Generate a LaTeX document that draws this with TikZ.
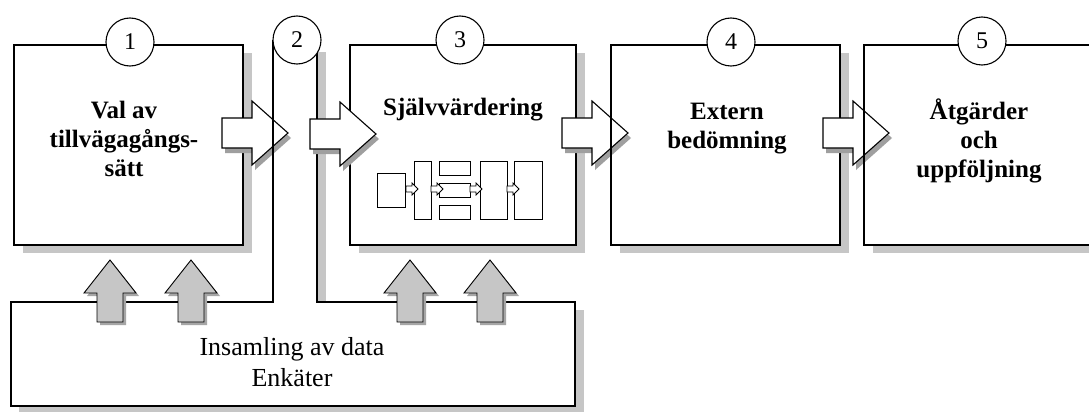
\documentclass[tikz,border=0pt]{standalone}
\usepackage{fontspec}
\setmainfont{Liberation Serif}
\usetikzlibrary{shadows}
\begin{document}
\begin{tikzpicture}[x=1pt,y=-1pt,
  stage/.style={draw, line width=1.1pt, fill=white, minimum width=229pt, minimum height=200pt,
    inner sep=0pt, outer sep=0pt, general shadow={fill=gray!45, shadow xshift=9pt, shadow yshift=-8pt}},
  num/.style={circle, draw, line width=1.1pt, fill=white, minimum size=48pt, inner sep=0pt,
    font=\fontsize{24}{26}\selectfont},
  title/.style={align=center, font=\fontsize{25}{29}\selectfont\bfseries, anchor=base, inner sep=0pt},
  plain/.style={align=center, font=\fontsize{26}{31}\selectfont, anchor=base, inner sep=0pt},
  mini/.style={draw, line width=0.9pt, fill=white, inner sep=0pt, outer sep=0pt},
  frame/.style={line width=1.1pt},
  rarr/.pic={
    \fill[gray!75, shift={(3,5)}] (0,-15) -- (30,-15) -- (30,-32) -- (66,0) -- (30,32) -- (30,15) -- (0,15) -- cycle;
    \draw[fill=white, line width=1.1pt] (0,-15) -- (30,-15) -- (30,-32) -- (66,0) -- (30,32) -- (30,15) -- (0,15) -- cycle;
  },
  uarr/.pic={
    \fill[gray!70, shift={(3,3)}] (-13,0) -- (-13,-29) -- (-26,-29) -- (0,-62) -- (26,-29) -- (13,-29) -- (13,0) -- cycle;
    \draw[fill=gray!45, line width=0.9pt] (-13,0) -- (-13,-29) -- (-26,-29) -- (0,-62) -- (26,-29) -- (13,-29) -- (13,0) -- cycle;
  },
  sarr/.pic={
    \draw[fill=white, line width=0.8pt] (0,-3) -- (6,-3) -- (6,-6) -- (12,0) -- (6,6) -- (6,3) -- (0,3) -- cycle;
  }
]
\useasboundingbox (0,0) rectangle (1089,412);
\clip (0,0) rectangle (1089,412);

% data collection frame (box 2) with its shadow
\fill[gray!45] (317,52) rectangle (326,302);
\fill[gray!45] (575,310) rectangle (584,420);
\fill[gray!45] (19,406) rectangle (584,420);
\fill[white] (273,40) -- (273,302) -- (11,302) -- (11,406) -- (575,406) -- (575,302) -- (317,302) -- (317,40) -- cycle;
\draw[frame] (273,40) -- (273,302) -- (11,302) -- (11,406) -- (575,406) -- (575,302) -- (317,302) -- (317,40);

% stage boxes
\node[stage] (b1) at (128.5,145) {};
\node[stage, minimum width=226pt] (b3) at (463,145) {};
\node[stage] (b4) at (725.5,145) {};
\node[stage] (b5) at (978.5,145) {};

% right arrows between stages
\pic (a1) at (222,133) {rarr};
\draw[frame] (273,40) -- (273,302);
\pic (a2) at (310,134) {rarr};
\pic (a3) at (562,133) {rarr};
\pic (a4) at (823,133) {rarr};
\draw[frame] (b4.north west) -- (b4.south west);
\draw[frame] (b5.north west) -- (b5.south west);

% up arrows from data collection
\pic (u1) at (110,322) {uarr};
\pic (u2) at (191,322) {uarr};
\pic (u3) at (410,322) {uarr};
\pic (u4) at (490,322) {uarr};

% mini flow chart inside box 3
\node[mini, minimum width=28pt, minimum height=34pt] (m1) at (391,190) {};
\node[mini, minimum width=17pt, minimum height=58pt] (m2) at (422.5,190) {};
\node[mini, minimum width=31pt, minimum height=14pt] (m3a) at (454.5,168) {};
\node[mini, minimum width=31pt, minimum height=14pt] (m3b) at (454.5,190) {};
\node[mini, minimum width=31pt, minimum height=14pt] (m3c) at (454.5,212) {};
\node[mini, minimum width=27pt, minimum height=58pt] (m4) at (493.5,190) {};
\node[mini, minimum width=28pt, minimum height=58pt] (m5) at (528,190) {};
\pic (s1) at (406,189) {sarr};
\pic (s2) at (431,189) {sarr};
\pic (s3) at (470,189) {sarr};
\pic (s4) at (507,189) {sarr};

% number circles
\node[num] (c1) at (130,42) {1};
\node[num] (c2) at (297,40) {2};
\node[num] (c3) at (460,40) {3};
\node[num] (c4) at (731,42) {4};
\node[num] (c5) at (982,41) {5};

% texts (base anchor = last line)
\node[title] (t1) at (124,176) {Val av\\tillvägagångs-\\sätt};
\node[title] (t3) at (463,115) {Självvärdering};
\node[title] (t4) at (727,148) {Extern\\bedömning};
\node[title] (t5) at (979,177) {Åtgärder\\och\\uppföljning};
\node[plain] (t2) at (292,386) {Insamling av data\\Enkäter};
\end{tikzpicture}
\end{document}
